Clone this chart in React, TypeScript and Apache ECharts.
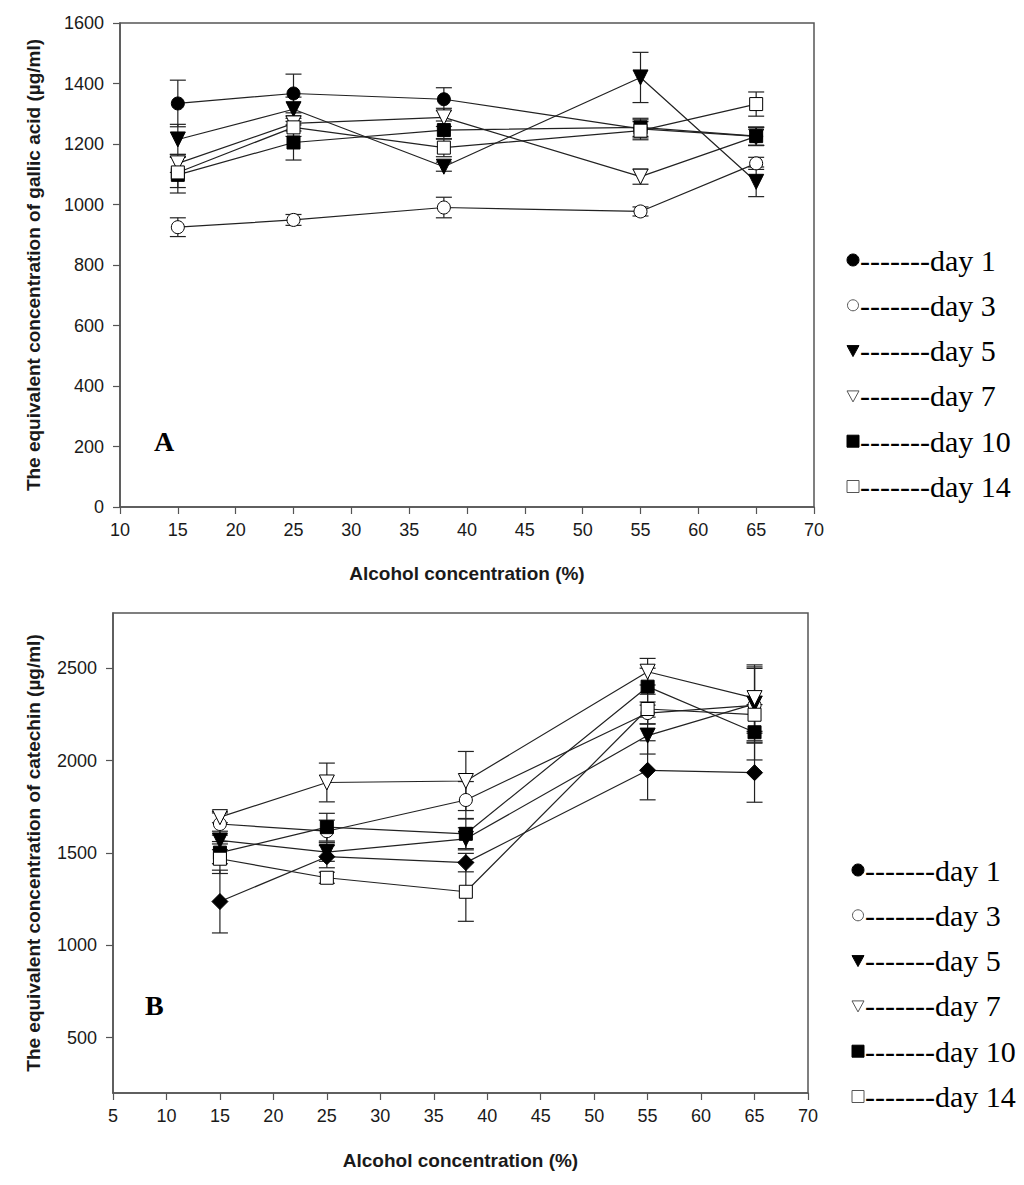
import * as echarts from 'echarts';
import { useEffect, useRef } from 'react';

const alcohol = [15, 25, 38, 55, 65];
const days = ['day 1', 'day 3', 'day 5', 'day 7', 'day 10', 'day 14'];

// panel A: gallic acid equivalents
const gallicDay1 = [1334, 1367, 1348, 1250, 1225];
const gallicDay3 = [925, 949, 990, 977, 1136];
const gallicDay5 = [1215, 1315, 1125, 1420, 1075];
const gallicDay7 = [1136, 1268, 1288, 1092, 1225];
const gallicDay10 = [1098, 1205, 1246, 1255, 1226];
const gallicDay14 = [1106, 1255, 1188, 1244, 1332];
const gallicErr1 = [77, 64, 38, 30, 30];
const gallicErr3 = [31, 18, 34, 15, 20];
const gallicErr5 = [50, 40, 15, 83, 49];
const gallicErr7 = [30, 25, 30, 25, 30];
const gallicErr10 = [60, 58, 30, 30, 30];
const gallicErr14 = [50, 30, 30, 30, 40];

// panel B: catechin equivalents
const catechinDay1 = [1237, 1480, 1448, 1948, 1935];
const catechinDay3 = [1657, 1618, 1787, 2258, 2300];
const catechinDay5 = [1568, 1505, 1577, 2136, 2308];
const catechinDay7 = [1694, 1882, 1890, 2482, 2339];
const catechinDay10 = [1502, 1640, 1604, 2401, 2154];
const catechinDay14 = [1469, 1366, 1290, 2280, 2249];
const catechinErr1 = [170, 60, 50, 160, 160];
const catechinErr3 = [60, 60, 100, 60, 200];
const catechinErr5 = [50, 50, 60, 100, 200];
const catechinErr7 = [30, 105, 160, 72, 180];
const catechinErr10 = [60, 75, 80, 100, 150];
const catechinErr14 = [80, 30, 160, 80, 100];

const gallicValues = [gallicDay1, gallicDay3, gallicDay5, gallicDay7, gallicDay10, gallicDay14];
const gallicErrors = [gallicErr1, gallicErr3, gallicErr5, gallicErr7, gallicErr10, gallicErr14];
const catechinValues = [catechinDay1, catechinDay3, catechinDay5, catechinDay7, catechinDay10, catechinDay14];
const catechinErrors = [catechinErr1, catechinErr3, catechinErr5, catechinErr7, catechinErr10, catechinErr14];

const gallicTicks = [0, 200, 400, 600, 800, 1000, 1200, 1400, 1600];
const catechinTicks = [500, 1000, 1500, 2000, 2500];

// marker style per day: [symbol, filled, rotate]
const markers: [string, boolean, number][] = [
    ['circle', true, 0],
    ['circle', false, 0],
    ['triangle', true, 180],
    ['triangle', false, 180],
    ['rect', true, 0],
    ['rect', false, 0],
];

const axisColor = '#555';
const textColor = '#1a1a1a';

const errorBarSeries = (gridIndex: number, values: number[][], errors: number[][]) => ({
    type: 'custom',
    xAxisIndex: gridIndex,
    yAxisIndex: gridIndex,
    z: 1,
    silent: true,
    encode: { x: 0, y: [1, 2] },
    data: values.flatMap((vals, s) =>
        vals.map((v, i) => [alcohol[i], v - errors[s][i], v + errors[s][i]])
    ),
    renderItem: (params: any, api: any) => {
        const x = api.value(0);
        const top = api.coord([x, api.value(2)]);
        const bottom = api.coord([x, api.value(1)]);
        const w = 8;
        const style = { stroke: '#222', lineWidth: 1.2 };
        return {
            type: 'group',
            children: [
                { type: 'line', shape: { x1: top[0], y1: top[1], x2: bottom[0], y2: bottom[1] }, style },
                { type: 'line', shape: { x1: top[0] - w, y1: top[1], x2: top[0] + w, y2: top[1] }, style },
                { type: 'line', shape: { x1: bottom[0] - w, y1: bottom[1], x2: bottom[0] + w, y2: bottom[1] }, style },
            ],
        };
    },
});

const lineSeries = (gridIndex: number, values: number[][], firstSymbol: string) =>
    values.map((vals, s) => {
        const [symbol, filled, rotate] = markers[s];
        const sym = s === 0 ? firstSymbol : symbol;
        return {
            type: 'line',
            name: days[s],
            xAxisIndex: gridIndex,
            yAxisIndex: gridIndex,
            z: 3,
            data: vals.map((v, i) => [alcohol[i], v]),
            symbol: sym,
            symbolRotate: rotate,
            symbolSize: sym === 'diamond' ? 16 : sym === 'triangle' ? 15 : 13,
            showAllSymbol: true,
            lineStyle: { color: '#222', width: 1.2 },
            itemStyle: {
                color: filled ? '#000' : '#fff',
                borderColor: '#000',
                borderWidth: 1,
            },
        };
    });

const plainNumber = (v: number) => String(v);

const xAxisBase = {
    type: 'value',
    interval: 5,
    axisLine: { lineStyle: { color: axisColor, width: 1.5 } },
    axisTick: { length: 7, lineStyle: { color: axisColor, width: 1.2 } },
    axisLabel: { color: textColor, fontSize: 18, fontFamily: 'Liberation Sans', margin: 14, formatter: plainNumber },
    splitLine: { show: false },
    name: 'Alcohol concentration (%)',
    nameLocation: 'middle',
    nameTextStyle: { color: textColor, fontSize: 19, fontWeight: 'bold', fontFamily: 'Liberation Sans' },
};

const yAxisBase = {
    type: 'value',
    axisLine: { show: true, lineStyle: { color: axisColor, width: 1.5 } },
    axisTick: { show: true, length: 7, lineStyle: { color: axisColor, width: 1.2 } },
    axisLabel: { color: textColor, fontSize: 18, fontFamily: 'Liberation Sans', margin: 16, formatter: plainNumber },
    splitLine: { show: false },
    nameLocation: 'middle',
    nameTextStyle: { color: textColor, fontSize: 19, fontWeight: 'bold', fontFamily: 'Liberation Sans' },
};

const legendGraphics = (left: number, top: number, firstFilledCircle: boolean) => {
    const items: any[] = [];
    const step = 45.3;
    days.forEach((d, i) => {
        const cy = top + i * step;
        const cx = left;
        const [symbol, filled] = markers[i];
        const fill = filled || (i === 0 && firstFilledCircle) ? '#000' : '#fff';
        const stroke = '#000';
        if (symbol === 'circle') {
            items.push({ type: 'circle', shape: { cx, cy, r: filled ? 6 : 5.5 }, style: { fill, stroke: filled ? stroke : '#555', lineWidth: 1 } });
        } else if (symbol === 'triangle') {
            items.push({
                type: 'polygon',
                shape: { points: [[cx - 6, cy - 5], [cx + 6, cy - 5], [cx, cy + 6]] },
                style: { fill, stroke: filled ? stroke : '#555', lineWidth: 1 },
            });
        } else {
            items.push({ type: 'rect', shape: { x: cx - 6, y: cy - 6, width: 12, height: 12 }, style: { fill, stroke: filled ? stroke : '#555', lineWidth: 1 } });
        }
        items.push({
            type: 'text',
            x: cx + 7,
            y: cy,
            style: {
                text: '-------' + d,
                fill: '#000',
                font: '30px "Liberation Serif"',
                textVerticalAlign: 'middle',
            },
        });
    });
    return items;
};

const App = () => {
    const chartDiv = useRef<HTMLDivElement>(null);

    useEffect(() => {
        document.body.style.margin = '0';
        const chart = echarts.init(chartDiv.current, null, { renderer: 'svg' });

        chart.setOption({
            animation: false,
            backgroundColor: '#fff',
            grid: [
                { left: 120, top: 23, width: 694, height: 484, show: true, borderColor: axisColor, borderWidth: 1.5 },
                { left: 113, top: 613, width: 695, height: 480, show: true, borderColor: axisColor, borderWidth: 1.5 },
            ],
            xAxis: [
                { ...xAxisBase, gridIndex: 0, min: 10, max: 70, nameGap: 57 },
                { ...xAxisBase, gridIndex: 1, min: 5, max: 70, nameGap: 58 },
            ],
            yAxis: [
                {
                    ...yAxisBase,
                    gridIndex: 0,
                    min: gallicTicks[0],
                    max: gallicTicks[gallicTicks.length - 1],
                    interval: 200,
                    name: 'The equivalent concentration of gallic acid (\u00b5g/ml)',
                    nameGap: 77,
                },
                {
                    ...yAxisBase,
                    gridIndex: 1,
                    min: 200,
                    max: 2800,
                    axisTick: { ...yAxisBase.axisTick, customValues: catechinTicks },
                    axisLabel: { ...yAxisBase.axisLabel, customValues: catechinTicks },
                    name: 'The equivalent concentration of catechin (\u00b5g/ml)',
                    nameGap: 70,
                },
            ],
            graphic: [
                ...legendGraphics(853, 260, true),
                ...legendGraphics(858, 870, true),
                {
                    type: 'text',
                    x: 154,
                    y: 441,
                    style: { text: 'A', fill: '#000', font: 'bold 28px "Liberation Serif"', textVerticalAlign: 'middle' },
                },
                {
                    type: 'text',
                    x: 145,
                    y: 1005,
                    style: { text: 'B', fill: '#000', font: 'bold 28px "Liberation Serif"', textVerticalAlign: 'middle' },
                },
            ],
            series: [
                errorBarSeries(0, gallicValues, gallicErrors),
                ...lineSeries(0, gallicValues, 'circle'),
                errorBarSeries(1, catechinValues, catechinErrors),
                ...lineSeries(1, catechinValues, 'diamond'),
            ],
        });

        return () => {
            chart.dispose();
        };
    }, []);

    return <div ref={chartDiv} style={{ width: '1024px', height: '1185px' }} />;
};

export default App;
